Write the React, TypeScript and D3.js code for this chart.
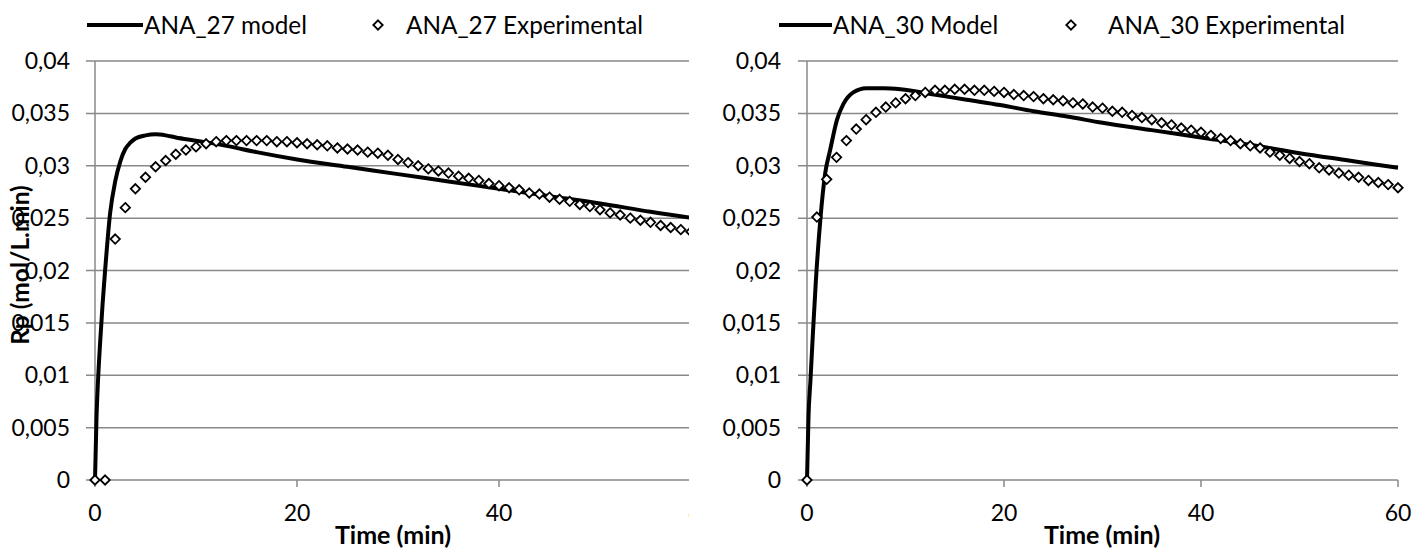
import React from "react";
import * as d3 from "d3";

const yTicks = [0, 0.005, 0.01, 0.015, 0.02, 0.025, 0.03, 0.035, 0.04];
const xTicks = [0, 20, 40, 60];

const leftExpT = d3.range(0, 60);
const leftExpV = [
  0, 0, 0.023, 0.026, 0.0278, 0.0289, 0.0299, 0.0305, 0.0311, 0.0315,
  0.0318, 0.0321, 0.0323, 0.0324, 0.0324, 0.0324, 0.0324, 0.0324, 0.0323, 0.0323,
  0.0322, 0.0321, 0.032, 0.0319, 0.0317, 0.0316, 0.0315, 0.0313, 0.0312, 0.031,
  0.0306, 0.0303, 0.03, 0.0297, 0.0295, 0.0293, 0.029, 0.0288, 0.0286, 0.0283,
  0.0281, 0.0279, 0.0277, 0.0274, 0.0273, 0.027, 0.0268, 0.0266, 0.0263, 0.0261,
  0.0258, 0.0255, 0.0253, 0.025, 0.0248, 0.0246, 0.0243, 0.0241, 0.0239, 0.0237,
];
const leftModelT = [0, 0.15, 0.3, 0.5, 0.75, 1, 1.5, 2, 2.5, 3, 3.5, 4, 5, 6, 7, 8, 10, 13, 16, 20, 25, 30, 35, 40, 45, 50, 55, 60];
const leftModelV = [0, 0.006, 0.0095, 0.013, 0.0168, 0.02, 0.0255, 0.0285, 0.0304, 0.0316, 0.0322, 0.0326, 0.0329, 0.033, 0.0329, 0.0327, 0.0324, 0.0319, 0.0313, 0.0306, 0.0299, 0.0292, 0.0285, 0.0278, 0.0271, 0.0264, 0.0256, 0.0249];

const rightExpT = d3.range(0, 61);
const rightExpV = [
  0, 0.0251, 0.0287, 0.0308, 0.0324, 0.0335, 0.0344, 0.0351, 0.0356, 0.036,
  0.0364, 0.0367, 0.037, 0.0372, 0.0372, 0.0373, 0.0373, 0.0372, 0.0372, 0.0371,
  0.037, 0.0368, 0.0367, 0.0366, 0.0364, 0.0363, 0.0362, 0.036, 0.0359, 0.0356,
  0.0355, 0.0352, 0.0351, 0.0348, 0.0346, 0.0344, 0.0341, 0.0339, 0.0336, 0.0334,
  0.0332, 0.0329, 0.0326, 0.0324, 0.0321, 0.0319, 0.0317, 0.0313, 0.031, 0.0307,
  0.0304, 0.0302, 0.0298, 0.0296, 0.0293, 0.0291, 0.0289, 0.0286, 0.0284, 0.0282,
  0.0279,
];
const rightModelT = [0, 0.15, 0.35, 0.6, 0.9, 1.35, 1.85, 2.35, 3.05, 3.7, 4.7, 6, 7.8, 9.5, 12.9, 16.2, 19.6, 23, 26.4, 30, 35, 40, 45, 50, 55, 60];
const rightModelV = [0, 0.006, 0.0095, 0.014, 0.019, 0.0248, 0.0293, 0.0315, 0.0344, 0.0359, 0.037, 0.0374, 0.0374, 0.0373, 0.0368, 0.0363, 0.0358, 0.0352, 0.0347, 0.0341, 0.0334, 0.0327, 0.032, 0.0312, 0.0305, 0.0298];

const FONT = "Lato, 'Open Sans', sans-serif";
const GRID = "#898989";

const fmt = (v: number) => (v === 0 ? "0" : String(+v.toFixed(3)).replace(".", ","));

type PanelProps = {
  id: string;
  x0: number;
  x60: number;
  clipRight: number;
  expT: number[];
  expV: number[];
  modT: number[];
  modV: number[];
  modelLabel: string;
  expLabel: string;
  legLine: [number, number];
  legDiamond: number;
  legExpText: number;
  labelRight: number;
  titleX: number;
  yTitle?: boolean;
};

function Diamond({ cx, cy }: { cx: number; cy: number }) {
  const r = 4.7;
  return (
    <path
      d={`M${cx},${cy - r}L${cx + r},${cy}L${cx},${cy + r}L${cx - r},${cy}Z`}
      fill="#fff"
      stroke="#000"
      strokeWidth={1.8}
    />
  );
}

function Panel(p: PanelProps) {
  const x = d3.scaleLinear().domain([0, 60]).range([p.x0, p.x60]);
  const y = d3.scaleLinear().domain([0, 0.04]).range([480, 61]);
  const line = d3
    .line<number>()
    .x((_, i) => x(p.modT[i]))
    .y((v) => y(v))
    .curve(d3.curveMonotoneX);
  const plotRight = Math.min(p.x60, p.clipRight);
  const LY = 25;
  return (
    <g>
      <defs>
        <clipPath id={p.id}>
          <rect x={0} y={0} width={p.clipRight} height={550} />
        </clipPath>
      </defs>
      {/* legend */}
      <line x1={p.legLine[0]} x2={p.legLine[1]} y1={LY} y2={LY} stroke="#000" strokeWidth={4} />
      <text x={p.legLine[1] + 1} y={LY} dy="0.35em" fontSize={24.3} fontFamily={FONT}>
        {p.modelLabel}
      </text>
      <Diamond cx={p.legDiamond} cy={LY} />
      <text x={p.legExpText} y={LY} dy="0.35em" fontSize={24.3} fontFamily={FONT}>
        {p.expLabel}
      </text>
      {/* gridlines + y ticks */}
      {yTicks.map((t) => (
        <g key={t}>
          <line x1={p.x0 - 9} x2={plotRight} y1={y(t)} y2={y(t)} stroke={GRID} strokeWidth={1.5} />
          <text
            x={p.labelRight}
            y={y(t)}
            dy="0.35em"
            textAnchor="end"
            fontSize={23}
            fontFamily={FONT}
          >
            {fmt(t)}
          </text>
        </g>
      ))}
      <line x1={p.x0} x2={p.x0} y1={61} y2={480} stroke={GRID} strokeWidth={1.5} />
      {/* x ticks */}
      <g clipPath={`url(#${p.id})`}>
        {xTicks.map((t) => (
          <g key={t}>
            <line x1={x(t)} x2={x(t)} y1={480} y2={487} stroke={GRID} strokeWidth={1.5} />
            <text x={x(t)} y={513} dy="0.35em" textAnchor="middle" fontSize={23} fontFamily={FONT}>
              {t}
            </text>
          </g>
        ))}
        {/* model line */}
        <path d={line(p.modV) || ""} fill="none" stroke="#000" strokeWidth={4} />
        {/* experimental */}
        {p.expV.map((v, i) => (
          <Diamond key={i} cx={x(p.expT[i])} cy={y(v)} />
        ))}
      </g>
      <text
        x={p.titleX}
        y={535}
        dy="0.35em"
        textAnchor="middle"
        fontSize={25}
        fontWeight="bold"
        fontFamily={FONT}
      >
        Time (min)
      </text>
      {p.yTitle && (
        <text
          transform="translate(20,265) rotate(-90)"
          textAnchor="middle"
          dy="0.35em"
          fontSize={24.5}
          fontWeight="bold"
          fontFamily={FONT}
        >
          Rp (mol/L.min)
        </text>
      )}
    </g>
  );
}

export default function App() {
  return (
    <svg
      width={1428}
      height={550}
      style={{ position: "absolute", left: 0, top: 0, background: "#fff" }}
    >
      <rect width={1428} height={550} fill="#fff" />
      <Panel
        id="clipL"
        x0={95}
        x60={701}
        clipRight={689}
        expT={leftExpT}
        expV={leftExpV}
        modT={leftModelT}
        modV={leftModelV}
        modelLabel="ANA_27 model"
        expLabel="ANA_27 Experimental"
        legLine={[87, 143]}
        legDiamond={378}
        legExpText={406}
        labelRight={70}
        titleX={393}
        yTitle
      />
      <Panel
        id="clipR"
        x0={807}
        x60={1398}
        clipRight={1428}
        expT={rightExpT}
        expV={rightExpV}
        modT={rightModelT}
        modV={rightModelV}
        modelLabel="ANA_30 Model"
        expLabel="ANA_30 Experimental"
        legLine={[779, 832]}
        legDiamond={1071}
        legExpText={1108}
        labelRight={781}
        titleX={1102}
      />
    </svg>
  );
}
